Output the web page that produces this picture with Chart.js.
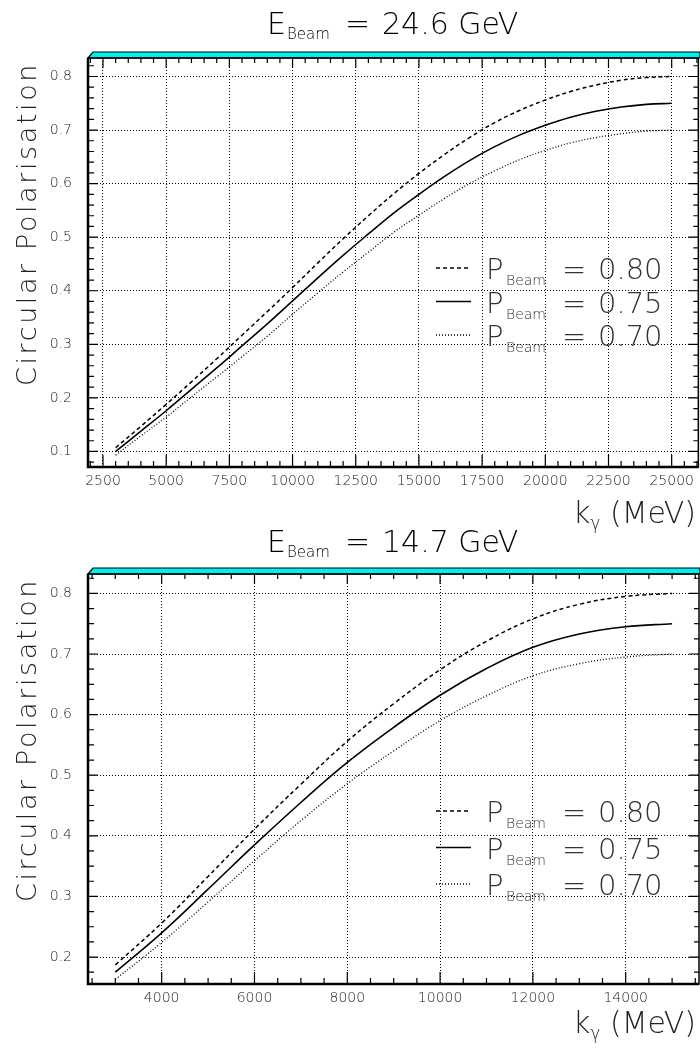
<!DOCTYPE html>
<html>
<head>
<meta charset="utf-8">
<script src="https://cdn.jsdelivr.net/npm/chart.js@4.4.1/dist/chart.umd.min.js"></script>
<style>
  body { margin: 0; background: #fff; }
  .box { position: absolute; left: 0; width: 700px; }
  #top { top: 0; height: 540px; }
  #bottom { top: 524px; height: 524px; }
</style>
</head>
<body>
<div class="box" id="top"><canvas id="chartTop"></canvas></div>
<div class="box" id="bottom"><canvas id="chartBottom"></canvas></div>
<script>
// photon energy k_gamma (MeV) and circular polarisation, E_beam = 24.6 GeV
const kTop = [3000, 4000, 5000, 6000, 7000, 8000, 9000, 10000, 11000, 12000, 13000, 14000,
              15000, 16000, 17000, 18000, 19000, 20000, 21000, 22000, 23000, 24000, 25000];
const pol80Top = [0.107, 0.147, 0.188, 0.230, 0.273, 0.317, 0.361, 0.406, 0.452, 0.497, 0.540, 0.581,
                  0.619, 0.654, 0.686, 0.714, 0.737, 0.756, 0.772, 0.784, 0.793, 0.798, 0.800];
const pol75Top = [0.100, 0.138, 0.176, 0.216, 0.256, 0.297, 0.338, 0.381, 0.424, 0.466, 0.506, 0.545,
                  0.580, 0.613, 0.643, 0.669, 0.691, 0.709, 0.724, 0.735, 0.743, 0.748, 0.750];
const pol70Top = [0.093, 0.129, 0.164, 0.202, 0.239, 0.277, 0.315, 0.356, 0.396, 0.435, 0.472, 0.509,
                  0.541, 0.572, 0.600, 0.624, 0.645, 0.662, 0.676, 0.686, 0.693, 0.698, 0.700];
const xTicksTop = [2500, 5000, 7500, 10000, 12500, 15000, 17500, 20000, 22500, 25000];
const yTicksTop = [0.1, 0.2, 0.3, 0.4, 0.5, 0.6, 0.7, 0.8];

// E_beam = 14.7 GeV
const kBottom = [3000, 4000, 5000, 6000, 7000, 8000, 9000, 10000, 11000, 12000, 13000, 14000, 15000];
const pol80Bottom = [0.187, 0.256, 0.333, 0.411, 0.485, 0.556, 0.618, 0.674, 0.721, 0.758, 0.782, 0.795, 0.800];
const pol75Bottom = [0.175, 0.240, 0.312, 0.385, 0.455, 0.521, 0.579, 0.632, 0.676, 0.711, 0.733, 0.745, 0.750];
const pol70Bottom = [0.163, 0.224, 0.291, 0.359, 0.425, 0.486, 0.540, 0.590, 0.631, 0.664, 0.684, 0.695, 0.700];
const xTicksBottom = [4000, 6000, 8000, 10000, 12000, 14000];
const yTicksBottom = [0.2, 0.3, 0.4, 0.5, 0.6, 0.7, 0.8];

const beamPolLabels = ['0.80', '0.75', '0.70'];
const beamEnergies = ['24.6 GeV', '14.7 GeV'];

const FONT = '"DejaVu Sans", "Liberation Sans", sans-serif';
const WEIGHT = '200';
const lineStyles = [
  { borderDash: [4, 3], borderWidth: 1.5 },
  { borderDash: [], borderWidth: 1.6 },
  { borderDash: [1, 2], borderWidth: 1.3 }
];

function txt(ctx, s, size, x, y, color) {
  ctx.font = WEIGHT + ' ' + size + 'px ' + FONT;
  ctx.fillStyle = color || '#000';
  ctx.fillText(s, x, y);
  return x + ctx.measureText(s).width;
}

// frame, inner ticks, titles and legend (HIGZ look)
const framePlugin = {
  id: 'frame',
  afterDraw(chart, args, o) {
    const { ctx, chartArea: a, scales } = chart;
    const sx = scales.x, sy = scales.y;
    ctx.save();

    // cyan top band
    ctx.beginPath();
    ctx.moveTo(a.left, a.top);
    ctx.lineTo(a.left + 5, a.top - 6);
    ctx.lineTo(chart.width, a.top - 6);
    ctx.lineTo(chart.width, a.top);
    ctx.closePath();
    ctx.fillStyle = '#00f0f0';
    ctx.fill();
    ctx.lineWidth = 1.2;
    ctx.strokeStyle = '#000';
    ctx.stroke();

    // frame
    ctx.lineWidth = 1.5;
    ctx.strokeRect(a.left, a.top, a.right - a.left, a.bottom - a.top);
    ctx.lineWidth = 2.5;
    ctx.beginPath();
    ctx.moveTo(a.left, a.top);
    ctx.lineTo(a.left, a.bottom);
    ctx.lineTo(a.right, a.bottom);
    ctx.stroke();

    // ticks
    ctx.lineWidth = 1.2;
    ctx.beginPath();
    const k0 = Math.ceil(sx.min / o.xMinor), k1 = Math.floor(sx.max / o.xMinor);
    for (let k = k0; k <= k1; k++) {
      const px = sx.getPixelForValue(k * o.xMinor);
      const major = k % o.xRatio === 0;
      ctx.moveTo(px, a.bottom);
      ctx.lineTo(px, a.bottom - (major ? 12 : 6));
      ctx.moveTo(px, a.top);
      ctx.lineTo(px, a.top + (major ? 10 : 5));
    }
    const j0 = Math.ceil(sy.min / o.yMinor - 1e-6), j1 = Math.floor(sy.max / o.yMinor + 1e-6);
    for (let j = j0; j <= j1; j++) {
      const py = sy.getPixelForValue(j * o.yMinor);
      const major = j % o.yRatio === 0;
      ctx.moveTo(a.left, py);
      ctx.lineTo(a.left + (major ? 10 : 6), py);
      ctx.moveTo(a.right, py);
      ctx.lineTo(a.right - (major ? 10 : 5), py);
    }
    ctx.stroke();

    // title
    ctx.textAlign = 'left';
    ctx.textBaseline = 'alphabetic';
    let x = txt(ctx, 'E', 30, 267, o.titleY);
    txt(ctx, 'Beam', 15, x + 1, o.titleY + 5);
    txt(ctx, '=', 30, 345, o.titleY);
    txt(ctx, o.title, 30, 382, o.titleY);

    // x axis title
    x = txt(ctx, 'k', 30, 573, o.xTitleY, '#222');
    x = txt(ctx, 'γ', 17, x, o.xTitleY + 6, '#222');
    txt(ctx, ' (MeV)', 30, x, o.xTitleY, '#222');

    // y axis title
    ctx.save();
    ctx.translate(36, a.top + 4);
    ctx.rotate(-Math.PI / 2);
    ctx.textAlign = 'right';
    ctx.font = WEIGHT + ' 27px ' + FONT;
    ctx.letterSpacing = '2.6px';
    ctx.fillStyle = '#222';
    ctx.fillText('Circular Polarisation', 0, 0);
    ctx.restore();

    // legend
    chart.data.datasets.forEach((ds, i) => {
      const by = o.legendY + i * o.legendGap;
      ctx.beginPath();
      ctx.setLineDash(ds.borderDash);
      ctx.lineWidth = ds.borderWidth;
      ctx.moveTo(436, by - 11);
      ctx.lineTo(471, by - 11);
      ctx.stroke();
      ctx.setLineDash([]);
      txt(ctx, 'P', 29, 486, by, '#333');
      txt(ctx, 'Beam', 14, 506, by + 6, '#333');
      txt(ctx, '=', 29, 562, by, '#333');
      txt(ctx, ds.label, 29, 598, by, '#333');
    });
    ctx.restore();
  }
};

function makeChart(id, ks, series, xTicks, yTicks, cfg) {
  const datasets = series.map((vals, i) => ({
    label: beamPolLabels[i],
    data: ks.map((k, n) => ({ x: k, y: vals[n] })),
    borderColor: '#000',
    borderDash: lineStyles[i].borderDash,
    borderWidth: lineStyles[i].borderWidth,
    pointRadius: 0,
    fill: false,
    tension: 0.4
  }));
  const tickFont = { family: FONT, size: 14, weight: WEIGHT };
  return new Chart(document.getElementById(id).getContext('2d'), {
    type: 'line',
    data: { datasets: datasets },
    options: {
      responsive: true,
      maintainAspectRatio: false,
      animation: false,
      layout: { padding: { top: cfg.top, right: 1, left: 0, bottom: 0 } },
      scales: {
        x: {
          type: 'linear',
          min: cfg.xMin,
          max: cfg.xMax,
          grid: { color: '#000', lineWidth: 1, drawTicks: false },
          border: { display: false, dash: [1, 2] },
          ticks: {
            autoSkip: false, maxRotation: 0,
            padding: 6, color: '#222', font: tickFont,
            callback: (v) => String(v)
          },
          afterBuildTicks: (s) => { s.ticks = xTicks.map((v) => ({ value: v })); },
          afterFit: (s) => { s.height = cfg.xAxisH; }
        },
        y: {
          min: cfg.yMin,
          max: cfg.yMax,
          grid: { color: '#000', lineWidth: 1, drawTicks: false },
          border: { display: false, dash: [1, 2] },
          ticks: {
            padding: 16, color: '#222', font: tickFont,
            callback: (v) => v.toFixed(1)
          },
          afterBuildTicks: (s) => { s.ticks = yTicks.map((v) => ({ value: v })); },
          afterFit: (s) => { s.width = 88; }
        }
      },
      plugins: {
        legend: { display: false },
        tooltip: { enabled: false },
        frame: cfg.frame
      }
    },
    plugins: [framePlugin]
  });
}

makeChart('chartTop', kTop, [pol80Top, pol75Top, pol70Top], xTicksTop, yTicksTop, {
  top: 58, xAxisH: 73,
  xMin: 1907, xMax: 26055,
  yMin: 0.071, yMax: 0.8345,
  frame: { title: beamEnergies[0], titleY: 34, xTitleY: 523, legendY: 279, legendGap: 33.5,
           xMinor: 500, xRatio: 5, yMinor: 0.02, yRatio: 5 }
});

makeChart('chartBottom', kBottom, [pol80Bottom, pol75Bottom, pol70Bottom], xTicksBottom, yTicksBottom, {
  top: 50, xAxisH: 64,
  xMin: 2412, xMax: 15580,
  yMin: 0.1555, yMax: 0.832,
  frame: { title: beamEnergies[1], titleY: 28, xTitleY: 509, legendY: 298, legendGap: 36.5,
           xMinor: 500, xRatio: 4, yMinor: 0.025, yRatio: 4 }
});
</script>
</body>
</html>
